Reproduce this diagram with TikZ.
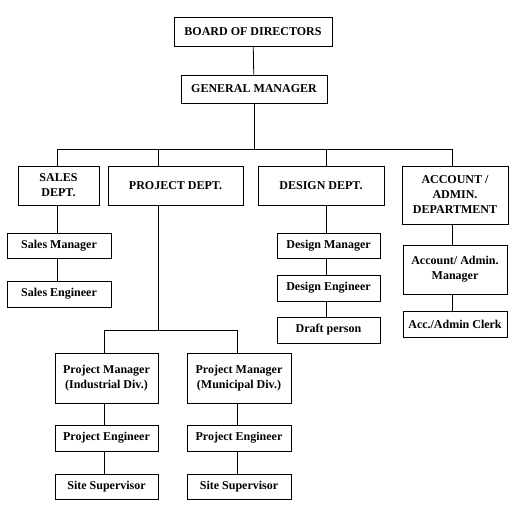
\documentclass[tikz,border=0pt]{standalone}
\usepackage{fontspec}
\setmainfont{Liberation Serif}

\begin{document}
\begin{tikzpicture}[x=1pt,y=-1pt]

\tikzset{box/.style = {shape=rectangle,draw,line width=0.8pt,inner sep=0pt,align=center,font=\bfseries\fontsize{12}{15}\selectfont}}
\tikzset{link/.style = {line width=0.8pt}}
\useasboundingbox (0,0) rectangle (517,520);

%top
\node[box, minimum width=158pt, minimum height=29pt] (board) at (253,31.5) {BOARD OF DIRECTORS};
\node[box, minimum width=146pt, minimum height=28pt] (gm) at (254,89) {GENERAL MANAGER};

%departments
\node[box, minimum width=81pt, minimum height=39pt] (sales) at (58.5,185.5) {SALES\\DEPT.};
\node[box, minimum width=135pt, minimum height=39pt] (project) at (175.5,185.5) {PROJECT DEPT.};
\node[box, minimum width=126pt, minimum height=39pt] (design) at (321,185.5) {DESIGN DEPT.};
\node[box, minimum width=106pt, minimum height=58pt] (account) at (455,195) {ACCOUNT /\\ADMIN.\\DEPARTMENT};

%staff
\node[box, minimum width=104pt, minimum height=25pt] (salesman) at (59,245.5) {Sales Manager};
\node[box, minimum width=104pt, minimum height=26pt] (saleseng) at (59,294) {Sales Engineer};
\node[box, minimum width=103pt, minimum height=25pt] (desman) at (328.5,245.5) {Design Manager};
\node[box, minimum width=103pt, minimum height=26pt] (deseng) at (328.5,288) {Design Engineer};
\node[box, minimum width=103pt, minimum height=26pt] (draft) at (328.5,330) {Draft person};
\node[box, minimum width=104pt, minimum height=49pt] (accman) at (455,269.5) {Account/ Admin.\\Manager};
\node[box, minimum width=104pt, minimum height=26pt] (clerk) at (455,324) {Acc./Admin Clerk};
\node[box, minimum width=103pt, minimum height=50pt] (pmind) at (106.5,378) {Project Manager\\(Industrial Div.)};
\node[box, minimum width=104pt, minimum height=50pt] (pmmun) at (239,378) {Project Manager\\(Municipal Div.)};
\node[box, minimum width=103pt, minimum height=26pt] (peind) at (106.5,438) {Project Engineer};
\node[box, minimum width=104pt, minimum height=26pt] (pemun) at (239,438) {Project Engineer};
\node[box, minimum width=103pt, minimum height=25pt] (ssind) at (106.5,486.5) {Site Supervisor};
\node[box, minimum width=104pt, minimum height=25pt] (ssmun) at (239,486.5) {Site Supervisor};

%bus points
\coordinate (bus) at (254,149);
\coordinate (c1) at (57,149);
\coordinate (c2) at (158,149);
\coordinate (c3) at (326,149);
\coordinate (c4) at (452,149);
\coordinate (pbus) at (158,330);
\coordinate (p1) at (104,330);
\coordinate (p2) at (237,330);

%edges
\draw[link] (board) -- (gm);
\draw[link] (gm) -- (bus);
\draw[link] (c1) -- (c4);
\foreach \c/\n in {c1/sales, c2/project, c3/design, c4/account}
  \draw[link] (\c) -- (\c |- \n.north);
\draw[link] (sales.south -| c1) -- (salesman.north -| c1);
\draw[link] (salesman.south -| c1) -- (saleseng.north -| c1);
\draw[link] (design.south -| c3) -- (desman.north -| c3);
\draw[link] (desman.south -| c3) -- (deseng.north -| c3);
\draw[link] (deseng.south -| c3) -- (draft.north -| c3);
\draw[link] (account.south -| c4) -- (accman.north -| c4);
\draw[link] (accman.south -| c4) -- (clerk.north -| c4);
\draw[link] (project.south -| c2) -- (pbus);
\draw[link] (p1) -- (p2);
\foreach \p/\a/\b/\d in {p1/pmind/peind/ssind, p2/pmmun/pemun/ssmun} {
  \draw[link] (\p) -- (\p |- \a.north);
  \draw[link] (\a.south -| \p) -- (\b.north -| \p);
  \draw[link] (\b.south -| \p) -- (\d.north -| \p);
}

\end{tikzpicture}
\end{document}
